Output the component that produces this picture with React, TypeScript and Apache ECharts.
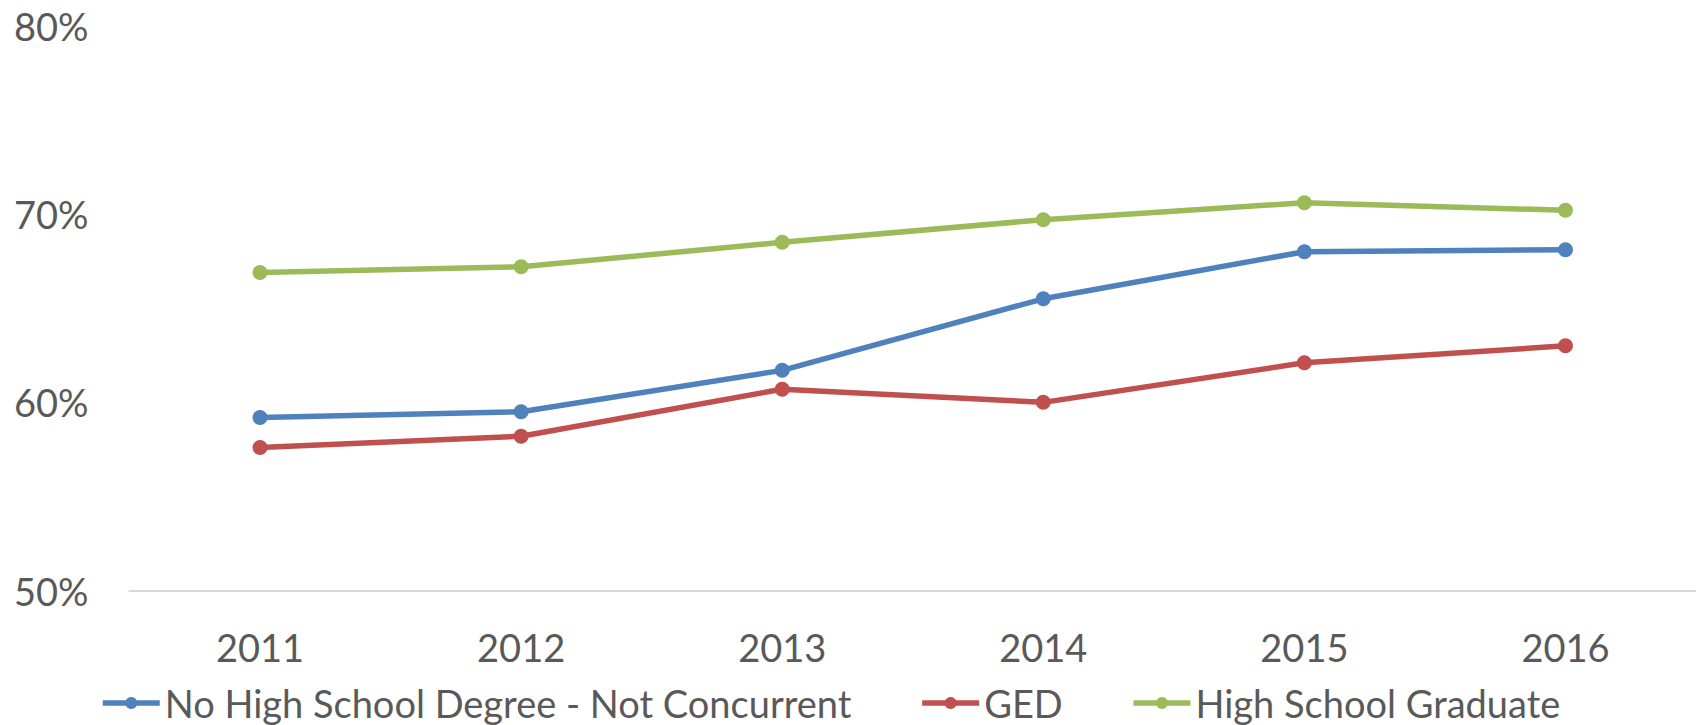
import React, { useEffect, useRef } from "react";
import * as echarts from "echarts";

const years = ["2011", "2012", "2013", "2014", "2015", "2016"];
const noHighSchool = [59.2, 59.5, 61.7, 65.5, 68.0, 68.1];
const ged = [57.6, 58.2, 60.7, 60.0, 62.1, 63.0];
const highSchoolGrad = [66.9, 67.2, 68.5, 69.7, 70.6, 70.2];

const seriesNames = ["No High School Degree - Not Concurrent", "GED", "High School Graduate"];
const seriesColors = ["#4F81BD", "#C0504D", "#9BBB59"];
const yTicks = { min: 50, max: 80, interval: 10 };

const FONT = "Lato";
const TEXT = "#595959";

export default function App() {
  const ref = useRef<HTMLDivElement>(null);
  useEffect(() => {
    document.body.style.margin = "0";
    if (!ref.current) return;
    const chart = echarts.init(ref.current, null, { renderer: "svg" });
    const datasets = [noHighSchool, ged, highSchoolGrad];
    chart.setOption({
      animation: false,
      backgroundColor: "#ffffff",
      textStyle: { fontFamily: FONT },
      grid: { left: 129.5, right: -11.5, top: 25.7, bottom: 134.3, containLabel: false },
      legend: {
        left: 95,
        top: 679,
        itemWidth: 57,
        itemHeight: 15,
        itemGap: 68,
        lineStyle: { width: 5.5 },
        textStyle: { fontFamily: FONT, fontSize: 38, color: TEXT, padding: [0, 0, 0, 0] },
        data: seriesNames,
      },
      xAxis: {
        type: "category",
        data: years,
        boundaryGap: true,
        axisLine: { show: true, lineStyle: { color: "#D9D9D9", width: 2 } },
        axisTick: { show: false },
        axisLabel: { fontFamily: FONT, fontSize: 38, color: TEXT, margin: 37 },
        splitLine: { show: false },
      },
      yAxis: {
        type: "value",
        min: yTicks.min,
        max: yTicks.max,
        interval: yTicks.interval,
        axisLine: { show: false },
        axisTick: { show: false },
        splitLine: { show: false },
        axisLabel: {
          fontFamily: FONT,
          fontSize: 38,
          color: TEXT,
          margin: 41,
          formatter: "{value}%",
        },
      },
      series: datasets.map((d, i) => ({
        name: seriesNames[i],
        type: "line",
        data: d,
        symbol: "circle",
        symbolSize: 15,
        lineStyle: { width: 5.5, color: seriesColors[i] },
        itemStyle: { color: seriesColors[i] },
      })),
    });
    return () => chart.dispose();
  }, []);
  return <div ref={ref} style={{ width: 1696, height: 725 }} />;
}
